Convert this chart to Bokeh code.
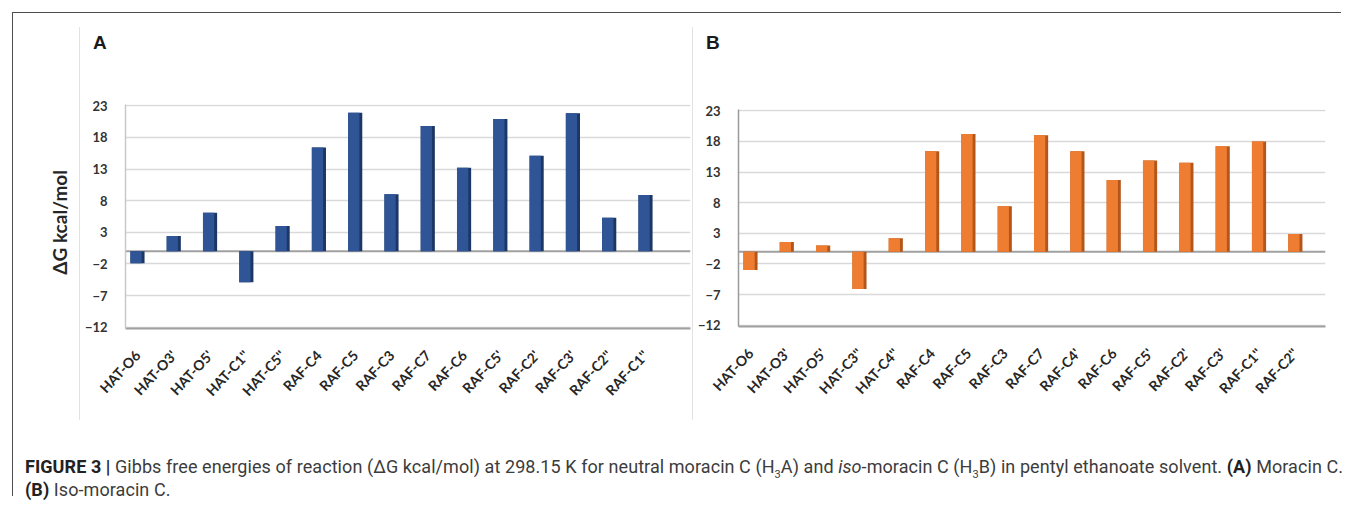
from bokeh.plotting import figure
from bokeh.models import Range1d, FixedTicker, Span, Div
from bokeh.layouts import row, column
from bokeh.embed import file_html
from bokeh.resources import INLINE

# ---------------- data ----------------
cats_a = ["HAT-O6", "HAT-O3'", "HAT-O5'", "HAT-C1''", "HAT-C5''", "RAF-C4", "RAF-C5",
          "RAF-C3", "RAF-C7", "RAF-C6", "RAF-C5'", "RAF-C2'", "RAF-C3'", "RAF-C2''", "RAF-C1''"]
vals_a = [-1.9, 2.4, 6.1, -4.9, 4.0, 16.4, 21.9, 9.0, 19.8, 13.2, 20.9, 15.1, 21.8, 5.3, 8.9]

cats_b = ["HAT-O6", "HAT-O3'", "HAT-O5'", "HAT-C3''", "HAT-C4''", "RAF-C4", "RAF-C5", "RAF-C3",
          "RAF-C7", "RAF-C4'", "RAF-C6", "RAF-C5'", "RAF-C2'", "RAF-C3'", "RAF-C1''", "RAF-C2''"]
vals_b = [-3.0, 1.6, 1.0, -6.1, 2.2, 16.4, 19.2, 7.4, 19.0, 16.4, 11.7, 14.9, 14.5, 17.2, 18.0, 2.9]

y_ticks = [-12, -7, -2, 3, 8, 13, 18, 23]
y_title = "ΔG kcal/mol"
panel_letters = ["A", "B"]

FONT = "Lato"
FIG_H = 347     # figure height below the letter strip
LETTER_H = 60   # strip holding the panel letter


def D(**kw):
    return Div(margin=0, **kw)


def make_panel(cats, vals, face, side, width, b_left, b_right, b_top, b_bottom, x_end, axis_col):
    n = len(cats)
    xs = list(range(n))
    p = figure(width=width, height=FIG_H, output_backend="svg", toolbar_location=None,
               x_range=Range1d(-0.33, x_end), y_range=Range1d(-12.2, 23.2),
               min_border_left=b_left, min_border_right=b_right,
               min_border_top=b_top, min_border_bottom=b_bottom, margin=0)
    p.outline_line_color = None
    p.background_fill_color = "white"
    p.border_fill_color = "white"

    p.xgrid.grid_line_color = None
    p.ygrid.ticker = FixedTicker(ticks=y_ticks)
    p.ygrid.grid_line_color = "#d9d9d9"
    p.ygrid.grid_line_width = 1.6

    p.add_layout(Span(location=0, dimension="width", line_color="#a0a0a0",
                      line_width=2, level="underlay"))

    # bars: darker right side + front face (pseudo 3-D)
    p.vbar(x=xs, top=vals, bottom=0, width=0.39, fill_color=side, line_color=None)
    p.vbar(x=[v - 0.04 for v in xs], top=vals, bottom=0, width=0.31,
           fill_color=face, line_color=None)

    p.yaxis.ticker = FixedTicker(ticks=y_ticks)
    p.yaxis.major_tick_line_color = None
    p.yaxis.minor_tick_line_color = None
    p.yaxis.axis_line_color = axis_col
    p.yaxis.axis_line_width = 1.5
    p.yaxis.major_label_text_font = FONT
    p.yaxis.major_label_text_font_style = "bold"
    p.yaxis.major_label_text_font_size = "13px"
    p.yaxis.major_label_text_color = "#333333"
    p.yaxis.major_label_standoff = 12

    p.xaxis.ticker = FixedTicker(ticks=xs)
    p.xaxis.major_label_overrides = {i: c for i, c in enumerate(cats)}
    p.xaxis.major_label_orientation = 0.82
    p.xaxis.major_tick_line_color = None
    p.xaxis.minor_tick_line_color = None
    p.xaxis.axis_line_color = "#a0a0a0"
    p.xaxis.axis_line_width = 2
    p.xaxis.major_label_text_font = FONT
    p.xaxis.major_label_text_font_style = "bold"
    p.xaxis.major_label_text_font_size = "14px"
    p.xaxis.major_label_text_color = "#262626"
    p.xaxis.major_label_standoff = 18
    return p


def letter_div(letter, width):
    return D(width=width, height=LETTER_H, text=(
        '<div style="padding-left:13px; padding-top:20px; font-family:\'Liberation Sans\', Arial; '
        'font-weight:bold; font-size:19px; line-height:19px; color:#1a1a1a;">%s</div>' % letter))


def vline(h_blank, h_line, color):
    return column(D(width=1, height=h_blank),
                  D(width=1, height=h_line, styles={"background-color": color}))


pa = make_panel(cats_a, vals_a, "#2F5597", "#1C3766", 612, 45, 2, 31, 92, 15.24, "#c8c8c8")
pb = make_panel(cats_b, vals_b, "#EE7D31", "#B4561A", 648, 45, 16, 36, 94, 15.83, "#9a9a9a")

ytitle_div = D(width=66, height=LETTER_H + FIG_H, text=(
    '<div style="margin-left:37px; margin-top:157px; writing-mode:vertical-rl; '
    'transform:rotate(180deg); font-family:Lato; font-weight:bold; font-size:19px; '
    'line-height:20px; color:#262626; white-space:nowrap;">%s</div>' % y_title))

panel_a = column(letter_div(panel_letters[0], 612), pa)
panel_b = column(letter_div(panel_letters[1], 648), pb)

charts = row(ytitle_div, vline(14, 393, "#e2e2e2"), panel_a, vline(14, 393, "#e2e2e2"), panel_b)

caption_html = (
    '<div style="padding-left:12px; margin-top:35px; line-height:23px; font-family:Roboto, sans-serif; '
    'font-size:18px; letter-spacing:0.07px; color:#3c3c3c; white-space:nowrap;">'
    '<b style="color:#222">FIGURE 3 |</b> Gibbs free energies of reaction (ΔG kcal/mol) at 298.15 K '
    'for neutral moracin C (H<sub style="font-size:11px; line-height:0;">3</sub>A) and <i>iso</i>-moracin C '
    '(H<sub style="font-size:11px; line-height:0;">3</sub>B) in pentyl ethanoate solvent. '
    '<b style="color:#222">(A)</b> Moracin C.<br>'
    '<b style="color:#222">(B)</b> Iso-moracin C.</div>'
)
cap = D(text=caption_html, width=1328, height=76)

right_block = column(D(width=1328, height=12),
                     D(width=1328, height=1, styles={"background-color": "#4d4d4d"}),
                     charts, cap)

layout = row(D(width=12, height=496), vline(12, 484, "#4d4d4d"), right_block)

open("out.html", "w").write(file_html(layout, INLINE))
